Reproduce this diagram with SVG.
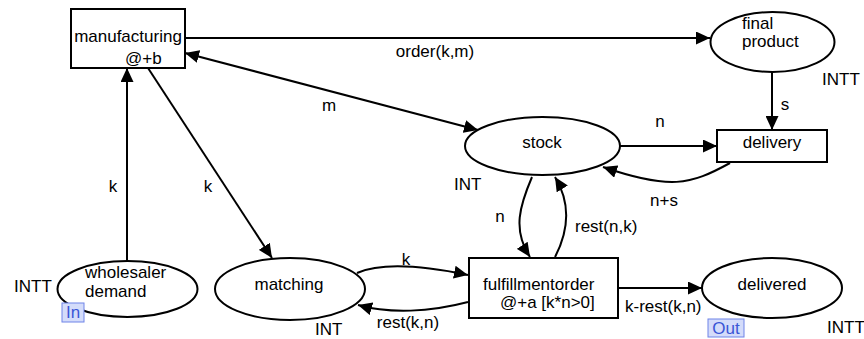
<svg xmlns="http://www.w3.org/2000/svg" width="864" height="339" viewBox="0 0 864 339">
<style>
text{font-family:"Liberation Sans",Arial,sans-serif;font-size:17px;fill:#000}
.node{fill:#fff;stroke:#000;stroke-width:2}
.arc{fill:none;stroke:#000;stroke-width:2}
.m{text-anchor:middle}
.tag{fill:#d4dcfa;stroke:#6f84e8;stroke-width:1}
.tagt{fill:#3a56d6}
</style>
<defs>
<marker id="ah" markerUnits="userSpaceOnUse" markerWidth="15" markerHeight="13" refX="14" refY="6.5" orient="auto-start-reverse" viewBox="0 0 15 13">
<path d="M0,0 L14,6.5 L0,13 z" fill="#000"/>
</marker>
</defs>
<rect width="864" height="339" fill="#fff"/>
<g id="connectors">
<path class="arc" d="M185,38 L710,38" marker-end="url(#ah)"/>
<text x="435" y="57" class="m">order(k,m)</text>
<path class="arc" d="M185,53 L478,130" marker-start="url(#ah)" marker-end="url(#ah)"/>
<text x="329" y="111" class="m">m</text>
<path class="arc" d="M148,68 L272,258" marker-end="url(#ah)"/>
<text x="208" y="192" class="m">k</text>
<path class="arc" d="M127,261 L127,68" marker-end="url(#ah)"/>
<text x="113" y="192" class="m">k</text>
<path class="arc" d="M772,72 L772,130" marker-end="url(#ah)"/>
<text x="785" y="110" class="m">s</text>
<path class="arc" d="M620,146 L717,146" marker-end="url(#ah)"/>
<text x="660" y="127" class="m">n</text>
<path class="arc" d="M730,163 C690,185 670,190 603,167" marker-end="url(#ah)"/>
<text x="664" y="206" class="m">n+s</text>
<path class="arc" d="M532,177 C520,205 512,230 530,257" marker-end="url(#ah)"/>
<text x="500" y="222" class="m">n</text>
<path class="arc" d="M555,257 C568,232 572,205 555,177" marker-end="url(#ah)"/>
<text x="575" y="232">rest(n,k)</text>
<path class="arc" d="M357,273 C380,263 420,265 468,275" marker-end="url(#ah)"/>
<text x="406" y="265" class="m">k</text>
<path class="arc" d="M468,302 C430,312 390,314 358,305" marker-end="url(#ah)"/>
<text x="408" y="328" class="m">rest(k,n)</text>
<path class="arc" d="M618,288 L702,288" marker-end="url(#ah)"/>
<text x="625" y="312">k-rest(k,n)</text>
</g>
<g id="manufacturing">
<rect class="node" x="71" y="9" width="114" height="59"/>
<text x="128" y="42" class="m">manufacturing</text>
<text x="125" y="64">@+b</text>
</g>
<g id="final-product">
<ellipse class="node" cx="772.5" cy="42" rx="62" ry="30"/>
<text x="742" y="29">final</text>
<text x="742" y="47">product</text>
<text x="822" y="85">INTT</text>
</g>
<g id="delivery">
<rect class="node" x="717" y="130" width="110" height="32"/>
<text x="772" y="148" class="m">delivery</text>
</g>
<g id="stock">
<ellipse class="node" cx="542.5" cy="146" rx="77.5" ry="29"/>
<text x="542" y="148" class="m">stock</text>
<text x="454" y="190">INT</text>
</g>
<g id="wholesaler-demand">
<ellipse class="node" cx="127.5" cy="289" rx="70" ry="28"/>
<text x="85" y="278">wholesaler</text>
<text x="85" y="297">demand</text>
<text x="14" y="292">INTT</text>
<rect class="tag" x="62" y="303" width="22" height="19"/>
<text x="73" y="318" class="m tagt">In</text>
</g>
<g id="matching">
<ellipse class="node" cx="290" cy="289" rx="75" ry="31"/>
<text x="289" y="290" class="m">matching</text>
<text x="315" y="335">INT</text>
</g>
<g id="fulfillmentorder">
<rect class="node" x="469" y="258" width="149" height="60"/>
<text x="483" y="290">fulfillmentorder</text>
<text x="500" y="308">@+a [k*n&gt;0]</text>
</g>
<g id="delivered">
<ellipse class="node" cx="772" cy="288" rx="70" ry="30"/>
<text x="772" y="290" class="m">delivered</text>
<text x="827" y="333">INTT</text>
<rect class="tag" x="708" y="319" width="36" height="18"/>
<text x="726" y="334" class="m tagt">Out</text>
</g>
</svg>
